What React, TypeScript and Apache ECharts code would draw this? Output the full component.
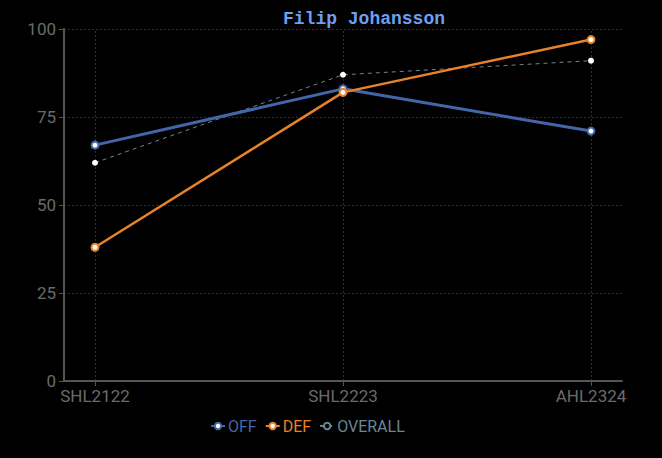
import React, { useEffect, useRef } from "react";
import * as echarts from "echarts";

const categories = ["SHL2122", "SHL2223", "AHL2324"];
const offValues = [67, 83, 71];
const defValues = [38, 82, 97];
const overallValues = [62, 87, 91];
const yTicks = [0, 25, 50, 75, 100];

const toPoints = (vals: number[]) => vals.map((v, i) => [i, v]);

const OFF_C = "#4466a8";
const DEF_C = "#e8822a";
const ALL_C = "#6a8696";

export default function App() {
  const ref = useRef<HTMLDivElement>(null);
  useEffect(() => {
    document.body.style.margin = "0";
    document.body.style.background = "#000";
    const chart = echarts.init(ref.current!, null, { renderer: "svg" });
    const labelFont = "Roboto";
    const gridColor = "#2e2e2e";
    chart.setOption({
      animation: false,
      backgroundColor: "#000",
      title: {
        text: "Filip Johansson",
        left: 278,
        top: 5,
        textStyle: {
          fontFamily: "Liberation Mono",
          fontWeight: "bold",
          fontSize: 18,
          color: "#6f9ff0",
        },
      },
      legend: {
        top: 413,
        left: 205,
        itemWidth: 14,
        itemHeight: 8,
        itemGap: 8,
        data: [
          { name: "OFF", textStyle: { color: OFF_C } },
          { name: "DEF", textStyle: { color: DEF_C } },
          { name: "OVERALL", textStyle: { color: ALL_C }, itemStyle: { color: "#000", borderColor: ALL_C, borderWidth: 2 } },
        ],
        textStyle: { fontFamily: labelFont, fontSize: 16, padding: [0, 0, 0, -2] },
      },
      grid: { left: 64, right: 40, top: 29, bottom: 77 },
      xAxis: {
        type: "value",
        min: -0.125,
        max: 2.125,
        axisLine: { show: true, onZero: false, lineStyle: { color: "#555", width: 2 } },
        axisTick: { show: true, customValues: [0, 1, 2], length: 5, lineStyle: { color: "#555" } },
        axisLabel: {
          customValues: [0, 1, 2],
          formatter: (v: number) => categories[Math.round(v)] ?? "",
          color: "#6b6b6b",
          fontFamily: labelFont,
          fontSize: 17,
          margin: 6,
        },
        splitLine: { show: false },
      },
      yAxis: {
        type: "value",
        min: yTicks[0],
        max: yTicks[yTicks.length - 1],
        interval: 25,
        axisLine: { show: true, onZero: false, lineStyle: { color: "#555", width: 2 } },
        axisTick: { show: true, length: 5, lineStyle: { color: "#555" } },
        axisLabel: { color: "#6b6b6b", fontFamily: labelFont, fontSize: 17, margin: 8 },
        splitLine: { show: true, lineStyle: { color: gridColor, type: [2, 2], width: 1 } },
      },
      series: [
        {
          name: "OFF",
          type: "line",
          data: toPoints(offValues),
          color: OFF_C,
          lineStyle: { width: 3 },
          symbol: "emptyCircle",
          symbolSize: 7,
          itemStyle: { borderWidth: 2.5 },
          z: 3,
          markLine: {
            silent: true,
            symbol: "none",
            label: { show: false },
            lineStyle: { color: gridColor, type: [2, 2], width: 1 },
            data: [{ xAxis: 0 }, { xAxis: 1 }, { xAxis: 2 }, { xAxis: 2.125 }],
            z: 0,
          },
        },
        {
          name: "DEF",
          type: "line",
          data: toPoints(defValues),
          color: DEF_C,
          lineStyle: { width: 2.5 },
          symbol: "emptyCircle",
          symbolSize: 7,
          itemStyle: { borderWidth: 2.5 },
          z: 4,
        },
        {
          name: "OVERALL",
          type: "line",
          data: toPoints(overallValues),
          color: ALL_C,
          lineStyle: { width: 1, type: [4, 4], color: ALL_C },
          symbol: "circle",
          symbolSize: 6,
          itemStyle: { color: "#ffffff" },
          z: 2,
        },
      ],
    });
    return () => chart.dispose();
  }, []);
  return (
    <div
      ref={ref}
      style={{ position: "absolute", left: 0, top: 0, width: 662, height: 458, background: "#000" }}
    />
  );
}
